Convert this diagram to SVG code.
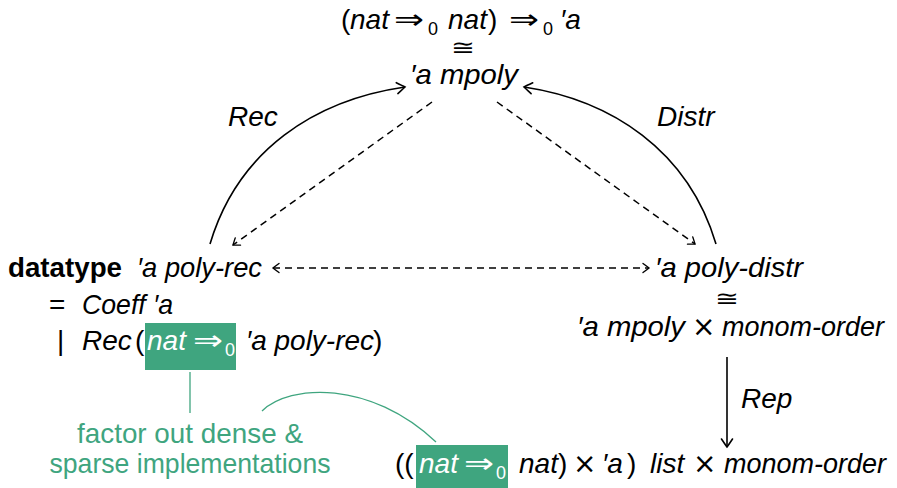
<svg xmlns="http://www.w3.org/2000/svg" width="897" height="488" viewBox="0 0 897 488">
<defs>
<style>
text{font-family:"Liberation Sans","DejaVu Sans",sans-serif;font-size:28px;fill:#000}
.i{font-style:italic}
.b{font-weight:bold}
.sub{font-size:18px;font-style:normal}
.sym{font-family:"DejaVu Sans",sans-serif;font-style:normal}
.cong{font-family:"DejaVu Sans",sans-serif;font-size:22px}
.w{fill:#fff}
.g{fill:#3fa57f}
.box{fill:#3fa57f}
.solid{fill:none;stroke:#000;stroke-width:1.6}
.dash{fill:none;stroke:#000;stroke-width:1.5;stroke-dasharray:7 5}
.gl{fill:none;stroke:#3fa57f;stroke-width:1.3}
</style>
<marker id="ah" markerUnits="userSpaceOnUse" markerWidth="20" markerHeight="20" viewBox="-10 -10 20 20" refX="0" refY="0" orient="auto-start-reverse">
<path d="M-8,-5.5 Q-2,-1.5 0,0 Q-2,1.5 -8,5.5" fill="none" stroke="#000" stroke-width="1.6" stroke-linecap="round"/>
</marker>
<marker id="ahs" markerUnits="userSpaceOnUse" markerWidth="20" markerHeight="20" viewBox="-10 -10 20 20" refX="0" refY="0" orient="auto-start-reverse">
<path d="M-6,-4.5 Q-1.5,-1.2 0,0 Q-1.5,1.2 -6,4.5" fill="none" stroke="#000" stroke-width="1.4" stroke-linecap="round"/>
</marker>
</defs>

<g id="connectors">
<path class="solid" d="M210,244 C238,150 315,100 405,87" marker-end="url(#ah)"/>
<path class="solid" d="M716,244 C688,150 611,100 524,87" marker-end="url(#ah)"/>
<path class="dash" d="M432,102 L233,245" marker-end="url(#ahs)"/>
<path class="dash" d="M497,102 L695,244" marker-end="url(#ahs)"/>
<path class="dash" d="M273,268 L649,268" marker-start="url(#ahs)" marker-end="url(#ahs)"/>
<path class="solid" d="M727,357 L727,447" marker-end="url(#ah)"/>
<path class="gl" d="M190,372 L190,413"/>
<path class="gl" d="M262,411 C290,384 370,380 436,442"/>
<text class="i" x="228" y="126">Rec</text>
<text class="i" x="657" y="126">Distr</text>
<text class="i" x="741" y="408">Rep</text>
</g>

<g id="node-mpoly">
<text x="341" y="29">(</text>
<text class="i" x="350" y="29">nat</text>
<text class="sym" x="394" y="29" font-size="28" textLength="30" lengthAdjust="spacingAndGlyphs">⇒</text>
<text class="sub" x="428" y="35">0</text>
<text class="i" x="448" y="29">nat</text>
<text x="488" y="29">)</text>
<text class="sym" x="509" y="29" font-size="28" textLength="30" lengthAdjust="spacingAndGlyphs">⇒</text>
<text class="sub" x="543" y="35">0</text>
<text class="i" x="560" y="29">′a</text>
<text class="cong" x="451" y="55" textLength="24" lengthAdjust="spacingAndGlyphs">≅</text>
<text class="i" x="464" y="84" text-anchor="middle" textLength="108" lengthAdjust="spacingAndGlyphs">′a mpoly</text>
</g>

<g id="node-poly-rec">
<text class="b" x="8" y="277" textLength="114" lengthAdjust="spacingAndGlyphs">datatype</text>
<text class="i" x="137" y="277" textLength="125" lengthAdjust="spacingAndGlyphs">′a poly-rec</text>
<text x="49" y="314">=</text>
<text class="i" x="82" y="314" textLength="91" lengthAdjust="spacingAndGlyphs">Coeff ′a</text>
<text x="57" y="350">|</text>
<text class="i" x="82" y="350">Rec</text>
<text x="135" y="350">(</text>
<rect class="box" x="145" y="323" width="91" height="47"/>
<text class="i w" x="147" y="350">nat</text>
<text class="sym w" x="193" y="350" font-size="28" textLength="30" lengthAdjust="spacingAndGlyphs">⇒</text>
<text class="sub w" x="225" y="356">0</text>
<text class="i" x="246" y="350" textLength="128" lengthAdjust="spacingAndGlyphs">′a poly-rec</text>
<text x="373" y="350">)</text>
</g>

<g id="node-poly-distr">
<text class="i" x="655" y="277" textLength="148" lengthAdjust="spacingAndGlyphs">′a poly-distr</text>
<text class="cong" x="715" y="306" textLength="24" lengthAdjust="spacingAndGlyphs">≅</text>
<text class="i" x="577" y="336" textLength="108" lengthAdjust="spacingAndGlyphs">′a mpoly</text>
<text class="sym" x="692" y="336" font-size="24">×</text>
<text class="i" x="722" y="336" textLength="162" lengthAdjust="spacingAndGlyphs">monom-order</text>
</g>

<g id="node-list">
<text x="395" y="473">((</text>
<rect class="box" x="416" y="445" width="92" height="43"/>
<text class="i w" x="419" y="473">nat</text>
<text class="sym w" x="464" y="473" font-size="28" textLength="30" lengthAdjust="spacingAndGlyphs">⇒</text>
<text class="sub w" x="496" y="479">0</text>
<text class="i" x="519" y="473">nat</text>
<text x="558" y="473">)</text>
<text class="sym" x="573" y="473" font-size="24">×</text>
<text class="i" x="602" y="473">′a</text>
<text x="627" y="473">)</text>
<text class="i" x="650" y="473">list</text>
<text class="sym" x="693" y="473" font-size="24">×</text>
<text class="i" x="724" y="473" textLength="162" lengthAdjust="spacingAndGlyphs">monom-order</text>
</g>

<g id="note">
<text class="g" x="190" y="443" text-anchor="middle" textLength="226" lengthAdjust="spacingAndGlyphs">factor out dense &amp;</text>
<text class="g" x="190" y="473" text-anchor="middle" textLength="281" lengthAdjust="spacingAndGlyphs">sparse implementations</text>
</g>
</svg>
